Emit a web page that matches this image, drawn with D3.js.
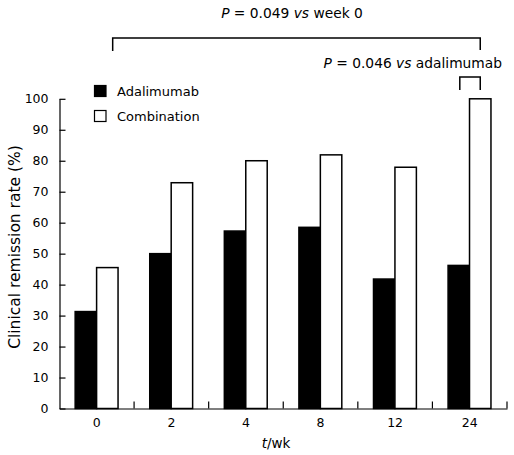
<!DOCTYPE html>
<html>
<head>
<meta charset="utf-8">
<script src="https://cdn.jsdelivr.net/npm/d3@7"></script>
<style>
  html, body { margin: 0; padding: 0; background: #fff; }
  svg { display: block; font-family: "DejaVu Sans", sans-serif; }
</style>
</head>
<body>
<svg id="chart" width="514" height="455"></svg>
<script>
const weeks = ["0", "2", "4", "8", "12", "24"];
const series = ["Adalimumab", "Combination"];
const adalimumab = [31.3, 50, 57.3, 58.5, 41.8, 46.2];
const combination = [45.5, 72.9, 80, 81.9, 77.9, 100];
const yTicks = [0, 10, 20, 30, 40, 50, 60, 70, 80, 90, 100];
const seriesColors = ["#000", "#fff"];

const svg = d3.select("#chart");
const x0 = d3.scaleBand().domain(weeks).range([59.5, 507]).padding(0);
const bw = x0.bandwidth();
const x1 = d3.scaleBand().domain(series).range([bw * 0.21, bw * 0.785]).padding(0);
const y = d3.scaleLinear().domain([0, 100]).range([408.5, 98.8]);

const values = { "Adalimumab": adalimumab, "Combination": combination };

// bars
const groups = svg.append("g").selectAll("g").data(weeks).join("g")
  .attr("transform", d => `translate(${x0(d)},0)`);
groups.selectAll("rect")
  .data((w, i) => series.map((s, j) => ({ s, v: values[s][i], c: seriesColors[j] })))
  .join("rect")
  .attr("x", d => x1(d.s))
  .attr("width", x1.bandwidth())
  .attr("y", d => y(d.v))
  .attr("height", d => y(0) - y(d.v))
  .attr("fill", d => d.c)
  .attr("stroke", "#000")
  .attr("stroke-width", 1.5);

// y axis
const yAxis = svg.append("g").attr("transform", "translate(59.5,0)")
  .call(d3.axisLeft(y).tickValues(yTicks).tickSize(-6).tickPadding(11).tickSizeOuter(0));
yAxis.selectAll("text").attr("font-size", 12.5).attr("fill", "#000")
  .attr("font-family", "DejaVu Sans");
yAxis.selectAll("line, path").attr("stroke", "#000").attr("stroke-width", 1.2);

// x axis
const xAxis = svg.append("g").attr("transform", `translate(0,${y(0)})`)
  .call(d3.axisBottom(x0).tickSize(0).tickPadding(10).tickSizeOuter(0));
xAxis.selectAll("text").attr("font-size", 12.5).attr("fill", "#000")
  .attr("font-family", "DejaVu Sans");
xAxis.select("path").attr("stroke", "#000").attr("stroke-width", 1.2);
svg.append("g").selectAll("line").data(weeks).join("line")
  .attr("x1", d => x0(d) + bw).attr("x2", d => x0(d) + bw)
  .attr("y1", y(0)).attr("y2", y(0) - 7)
  .attr("stroke", "#000").attr("stroke-width", 1.2);

// axis titles
const xt = svg.append("text").attr("x", 276).attr("y", 448)
  .attr("text-anchor", "middle").attr("font-size", 13.5);
xt.append("tspan").attr("font-style", "italic").text("t");
xt.append("tspan").text("/wk");

svg.append("text")
  .attr("transform", "translate(20,247) rotate(-90)")
  .attr("text-anchor", "middle").attr("font-size", 15.5)
  .text("Clinical remission rate (%)");

// legend
const legend = svg.append("g");
series.forEach((s, i) => {
  const yy = 91 + i * 25;
  legend.append("rect").attr("x", 94.5).attr("y", yy - 5.5).attr("width", 11.5).attr("height", 11)
    .attr("fill", seriesColors[i]).attr("stroke", "#000").attr("stroke-width", 1.2);
  legend.append("text").attr("x", 117).attr("y", yy).attr("dy", "0.35em")
    .attr("font-size", 13).text(s);
});

// significance brackets
const bigL = x0("0") + x1("Combination") + x1.bandwidth() * 0.75;
const bigR = x0("24") + x1("Combination") + x1.bandwidth() / 2;
svg.append("path")
  .attr("d", `M${bigL},51V38H${bigR}V50`)
  .attr("fill", "none").attr("stroke", "#000").attr("stroke-width", 1.5);
const t1 = svg.append("text").attr("x", 292).attr("y", 13).attr("dy", "0.35em")
  .attr("text-anchor", "middle").attr("font-size", 13.8);
t1.append("tspan").attr("font-style", "italic").text("P");
t1.append("tspan").text(" = 0.049 ");
t1.append("tspan").attr("font-style", "italic").text("vs");
t1.append("tspan").text(" week 0");

const smL = x0("24") + x1("Adalimumab") + x1.bandwidth() / 2 + 1;
svg.append("path")
  .attr("d", `M${smL},90V77H${bigR}V90`)
  .attr("fill", "none").attr("stroke", "#000").attr("stroke-width", 1.5);
const t2 = svg.append("text").attr("x", 502).attr("y", 63).attr("dy", "0.35em")
  .attr("text-anchor", "end").attr("font-size", 13.8);
t2.append("tspan").attr("font-style", "italic").text("P");
t2.append("tspan").text(" = 0.046 ");
t2.append("tspan").attr("font-style", "italic").text("vs");
t2.append("tspan").text(" adalimumab");
</script>
</body>
</html>
